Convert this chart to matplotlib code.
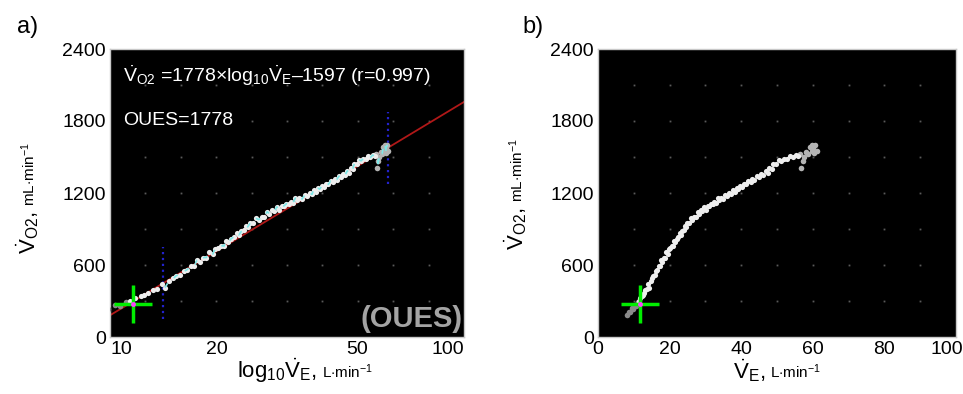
import numpy as np
import matplotlib
matplotlib.use('Agg')
import matplotlib.pyplot as plt
from matplotlib.transforms import IdentityTransform, ScaledTranslation

plt.rcParams['font.family'] = ['Liberation Sans', 'DejaVu Sans']
plt.rcParams['mathtext.fontset'] = 'custom'
plt.rcParams['mathtext.rm'] = 'Liberation Sans'
plt.rcParams['mathtext.it'] = 'Liberation Sans:italic'

# ventilation (L/min) and oxygen uptake (mL/min)
ve = [8.2, 8.6, 9.0, 9.5, 9.9, 10.3, 10.7, 11.1, 11.4, 11.8,
      12.2, 12.5, 12.8, 13.2, 13.6, 14.0, 14.3, 14.7, 15.1, 15.4,
      15.8, 16.2, 16.5, 16.9, 17.3, 17.6, 17.9, 18.3, 18.7, 19.1,
      19.5, 19.8, 20.2, 20.6, 21.0, 21.2, 21.6, 22.0, 22.4, 22.8,
      23.1, 23.5, 23.9, 24.2, 24.5, 24.9, 25.4, 25.9, 26.3, 26.8,
      27.3, 27.8, 28.2, 28.7, 29.1, 29.6, 30.1, 30.6, 31.0, 31.5,
      32.0, 32.4, 32.9, 33.4, 33.8, 34.3, 34.9, 35.5, 36.1, 36.7,
      37.2, 37.6, 38.2, 38.7, 39.1, 39.6, 40.2, 40.8, 41.4, 42.0,
      42.6, 43.1, 43.7, 44.3, 44.9, 45.6, 46.2, 46.8, 47.4, 47.9,
      48.5, 49.0, 49.8, 50.5, 51.2, 51.9, 52.7, 53.6, 54.4, 55.2,
      55.9, 56.5, 57.3, 56.8, 57.6, 58.1, 58.7, 59.2, 59.7, 60.1,
      60.6, 61.1, 60.4, 59.8]
vo2 = [185, 212, 210, 240, 236, 265, 262, 290, 296, 325,
       338, 352, 368, 388, 404, 440, 412, 468, 488, 512,
       520, 548, 560, 592, 588, 640, 628, 662, 662, 708,
       690, 735, 740, 762, 758, 800, 790, 820, 835, 868,
       850, 880, 890, 925, 918, 950, 952, 988, 978, 1000,
       1002, 1045, 1028, 1055, 1048, 1085, 1062, 1095, 1092, 1112,
       1105, 1128, 1120, 1158, 1138, 1162, 1150, 1185, 1176, 1200,
       1188, 1228, 1212, 1240, 1232, 1255, 1250, 1276, 1272, 1300,
       1290, 1318, 1312, 1340, 1332, 1360, 1352, 1385, 1370, 1405,
       1400, 1445, 1438, 1478, 1468, 1486, 1486, 1505, 1496, 1516,
       1508, 1522, 1468, 1410, 1496, 1540, 1528, 1585, 1552, 1575,
       1598, 1548, 1535, 1600]

slope = 1778
intercept = -1597
r_value = 0.997
window = [14.1, 61.0]        # fitting window limits (L/min)
rest_point = (11.6, 275)     # green cross

yticks = [0, 600, 1200, 1800, 2400]
xticks_log = [10, 20, 50, 100]
xticks_lin = [0, 20, 40, 60, 80, 100]

ve = np.array(ve)
vo2 = np.array(vo2)

fig = plt.figure(figsize=(9.63, 3.94), dpi=100)
W, H = 963, 394


def px_axes(l, t, r, b):
    return fig.add_axes([l / W, 1 - b / H, (r - l) / W, (b - t) / H])


def style(ax):
    ax.set_facecolor('black')
    for s in ax.spines.values():
        s.set_color('#c8c8c8')
        s.set_linewidth(1)
    ax.tick_params(length=0, labelsize=14, pad=3, colors='black')
    ax.set_ylim(0, 2400)
    ax.set_yticks(yticks)


def draw_points(ax):
    early = ve < 11.4
    late = (ve > 56.0) & (np.arange(len(ve)) > 100)
    main = ~early & ~late
    ax.scatter(ve[early], vo2[early], s=16, color='#8a8a8a', lw=0, zorder=3)
    ax.scatter(ve[late], vo2[late], s=16, color='#b4b4b4', lw=0, zorder=3)
    ax.scatter(ve[main], vo2[main], s=14, color='#eeeeee', lw=0, zorder=3)
    ax.plot(*rest_point, marker='+', ms=27, mew=2.5, color='#00ee00', zorder=4)
    ax.plot(*rest_point, marker='o', ms=3.5, color='#ff40ff', mew=0, zorder=5)


def add_label(x, y, main, unit, rotation):
    t = fig.text(x, H - y, main, transform=IdentityTransform(), fontsize=16,
                 rotation=rotation, rotation_mode='anchor', ha='left', va='baseline')
    fig.canvas.draw()
    bb = t.get_window_extent()
    if rotation == 90:
        fig.text(x, bb.y1 + 5, unit, transform=IdentityTransform(), fontsize=11,
                 rotation=90, rotation_mode='anchor', ha='left', va='baseline')
    else:
        fig.text(bb.x1 + 5, H - y, unit, transform=IdentityTransform(), fontsize=11,
                 ha='left', va='baseline')


vo2_lab = r'$\dot{\mathrm{V}}_{\mathrm{O2}}$,'
vo2_unit = r'mL$\cdot$min$^{\mathrm{-1}}$'
ve_unit = r'L$\cdot$min$^{\mathrm{-1}}$'

# ---- panel a: log scale ----
ax1 = px_axes(110, 49, 464, 337)
style(ax1)
ax1.set_xscale('log')
ax1.set_xlim(10, 100)
ax1.set_xticks(xticks_log)
ax1.minorticks_off()
labs = ax1.set_xticklabels([str(v) for v in xticks_log])
labs[0].set_ha('left')
labs[-1].set_ha('right')
for k in range(1, 10):
    for j in range(1, 8):
        ax1.plot(10 ** (1 + k / 10), 300 * j, marker='s', ms=1.3, color='#5a5a5a', mew=0)

xl = np.array([10, 100])
ax1.plot(xl, slope * np.log10(xl) + intercept, color='#b01818', lw=1.3, zorder=2)
for w in window:
    yc = slope * np.log10(w) + intercept
    ax1.plot([w, w], [yc - 300, yc + 300], color='#2222cc', ls=':', lw=1.6, zorder=2)
draw_points(ax1)
inwin = (ve >= window[0]) & (ve <= window[1])
ax1.plot(ve[inwin], vo2[inwin], color='#7fe8e8', lw=1.2, ls=(0, (3, 5)), zorder=3.5)

ax1.text(13 / 354, 1 - 33 / 288,
         r'$\dot{\mathrm{V}}_{\mathrm{O2}}$ =1778×log$_{10}$$\dot{\mathrm{V}}_{\mathrm{E}}$–1597 (r=0.997)',
         transform=ax1.transAxes, color='white', fontsize=14, va='baseline', ha='left')
ax1.text(13 / 354, 1 - 76 / 288, 'OUES=%d' % slope, transform=ax1.transAxes,
         color='white', fontsize=14, va='baseline', ha='left')
ax1.text(0.997, 0.015, '(OUES)', transform=ax1.transAxes, color='#a4a4a4',
         fontsize=21, ha='right', va='bottom', fontweight='semibold')

# ---- panel b: linear scale ----
ax2 = px_axes(598, 49, 956, 337)
style(ax2)
ax2.set_xlim(0, 100)
ax2.set_xticks(xticks_lin)
labs2 = ax2.set_xticklabels([str(v) for v in xticks_lin])
labs2[-1].set_transform(labs2[-1].get_transform() +
                        ScaledTranslation(-9 / 100, 0, fig.dpi_scale_trans))
for k in range(1, 10):
    for j in range(1, 8):
        ax2.plot(10 * k, 300 * j, marker='s', ms=1.3, color='#5a5a5a', mew=0)
draw_points(ax2)

fig.text(17 / W, 1 - 33 / H, 'a)', fontsize=17)
fig.text(522 / W, 1 - 33 / H, 'b)', fontsize=17)

add_label(35, 254, vo2_lab, vo2_unit, 90)
add_label(237, 378, r'log$_{10}$$\dot{\mathrm{V}}_{\mathrm{E}}$,', ve_unit, 0)
add_label(523, 250, vo2_lab, vo2_unit, 90)
add_label(733, 378, r'$\dot{\mathrm{V}}_{\mathrm{E}}$,', ve_unit, 0)

fig.savefig('out.png', dpi=100)
